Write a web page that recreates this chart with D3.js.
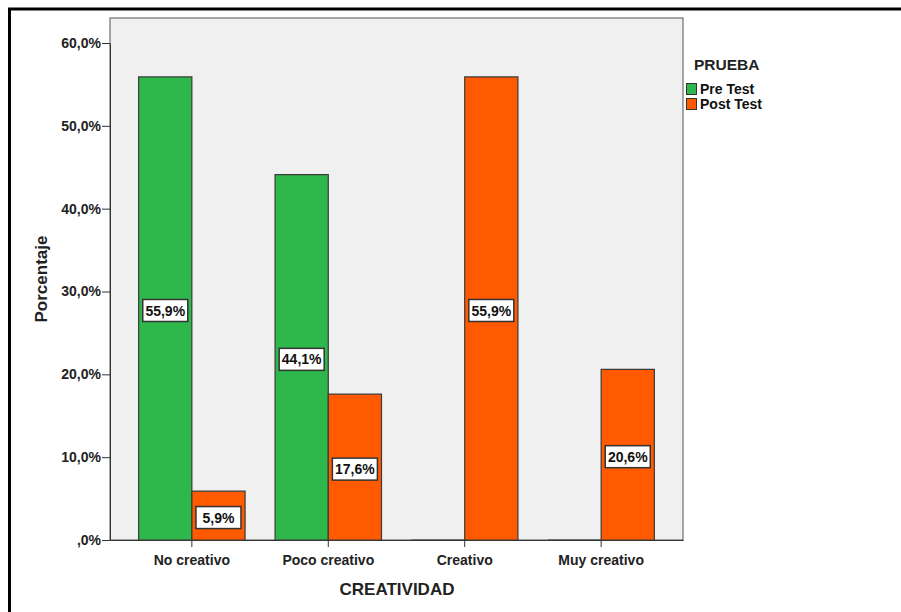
<!DOCTYPE html>
<html>
<head>
<meta charset="utf-8">
<script src="https://cdn.jsdelivr.net/npm/d3@7"></script>
<style>
  html, body { margin: 0; padding: 0; background: #fff; }
  svg { display: block; font-family: Arial, "Liberation Sans", sans-serif; }
</style>
</head>
<body>
<svg id="chart" width="901" height="612"></svg>
<script>
// Creatividad: porcentaje por categoría, antes y después de la prueba
const categories = ["No creativo", "Poco creativo", "Creativo", "Muy creativo"];
const series = ["Pre Test", "Post Test"];
const preTest = [55.9, 44.1, 0, 0];
const postTest = [5.9, 17.6, 55.9, 20.6];
const yTicks = [0, 10, 20, 30, 40, 50, 60];
const colors = ["#2eb84b", "#ff5a00"];

const svg = d3.select("#chart");
const plot = { left: 110, right: 683, top: 18, bottom: 540 };

// outer frame
svg.append("rect")
  .attr("x", 9.5).attr("y", 9).attr("width", 1000).attr("height", 1000)
  .attr("fill", "none").attr("stroke", "#000").attr("stroke-width", 3);

// plot background
svg.append("rect")
  .attr("x", plot.left).attr("y", plot.top)
  .attr("width", plot.right - plot.left).attr("height", plot.bottom - plot.top)
  .attr("fill", "#f0f0f0").attr("stroke", "#555").attr("stroke-width", 1);

const x = d3.scaleBand().domain(categories)
  .range([plot.left, plot.right]).paddingInner(0.22).paddingOuter(0.21);
const xs = d3.scaleBand().domain(series).range([0, x.bandwidth()]);
const y = d3.scaleLinear().domain([0, 60]).range([plot.bottom, 43]);

const fmt = v => d3.format(".1f")(v).replace(".", ",") + "%";

// y axis
const yAxis = svg.append("g")
  .attr("transform", `translate(${plot.left},0)`)
  .call(d3.axisLeft(y).tickValues(yTicks).tickSize(8).tickSizeOuter(0).tickPadding(1)
    .tickFormat(v => (v === 0 ? ",0" : d3.format(".1f")(v).replace(".", ",")) + "%"));
yAxis.select(".domain").attr("stroke", "#333");
yAxis.selectAll(".tick line").attr("stroke", "#333");
yAxis.selectAll(".tick text")
  .attr("fill", "#222").attr("font-size", 14).attr("font-weight", "bold");

// x axis
const xAxis = svg.append("g")
  .attr("transform", `translate(0,${plot.bottom})`)
  .call(d3.axisBottom(x).tickSize(7).tickSizeOuter(0).tickPadding(8));
xAxis.select(".domain").attr("stroke", "#333");
xAxis.selectAll(".tick line").attr("stroke", "#333");
xAxis.selectAll(".tick text")
  .attr("fill", "#222").attr("font-size", 14).attr("font-weight", "bold");

// bars
const rows = categories.map((c, i) => ({ cat: c, values: [preTest[i], postTest[i]] }));
const groups = svg.append("g").selectAll("g").data(rows).join("g")
  .attr("transform", d => `translate(${x(d.cat)},0)`);

groups.selectAll("path").data(d => d.values.map((v, j) => ({ v, s: series[j], j })))
  .join("path")
  .attr("d", d => {
    const x0 = xs(d.s), x1 = x0 + xs.bandwidth();
    return `M${x0},${y(0)}V${y(d.v)}H${x1}V${y(0)}Z`;
  })
  .attr("fill", d => colors[d.j])
  .attr("stroke", "#3a3a3a").attr("stroke-width", 1.2);

// value labels
const labels = groups.selectAll("g.lbl")
  .data(d => d.values.map((v, j) => ({ v, s: series[j], j })).filter(d => d.v > 0))
  .join("g").attr("class", "lbl")
  .attr("transform", d => `translate(${xs(d.s) + xs.bandwidth() / 2},${(y(0) + y(d.v)) / 2 + 2})`);
labels.append("rect")
  .attr("x", -22.5).attr("y", -11).attr("width", 45).attr("height", 22)
  .attr("fill", "#fff").attr("stroke", "#333").attr("stroke-width", 1.5);
labels.append("text")
  .attr("text-anchor", "middle").attr("dy", "0.36em")
  .attr("font-size", 14).attr("font-weight", "bold").attr("fill", "#111")
  .text(d => fmt(d.v));

// axis titles
svg.append("text")
  .attr("transform", "translate(47,279) rotate(-90)")
  .attr("text-anchor", "middle").attr("font-size", 17).attr("font-weight", "bold").attr("fill", "#222")
  .text("Porcentaje");
svg.append("text")
  .attr("x", 397).attr("y", 595)
  .attr("text-anchor", "middle").attr("font-size", 17).attr("font-weight", "bold").attr("fill", "#222")
  .text("CREATIVIDAD");

// legend
const legend = svg.append("g").attr("transform", "translate(686,0)");
legend.append("text").attr("x", 8).attr("y", 70)
  .attr("font-size", 15.5).attr("font-weight", "bold").attr("fill", "#222").text("PRUEBA");
series.forEach((s, i) => {
  legend.append("rect")
    .attr("x", 0.5).attr("y", 83.5 + i * 15).attr("width", 10).attr("height", 11)
    .attr("fill", colors[i]).attr("stroke", "#333").attr("stroke-width", 1);
  legend.append("text")
    .attr("x", 14).attr("y", 94 + i * 15)
    .attr("font-size", 14).attr("font-weight", "bold").attr("fill", "#111").text(s);
});
</script>
</body>
</html>
